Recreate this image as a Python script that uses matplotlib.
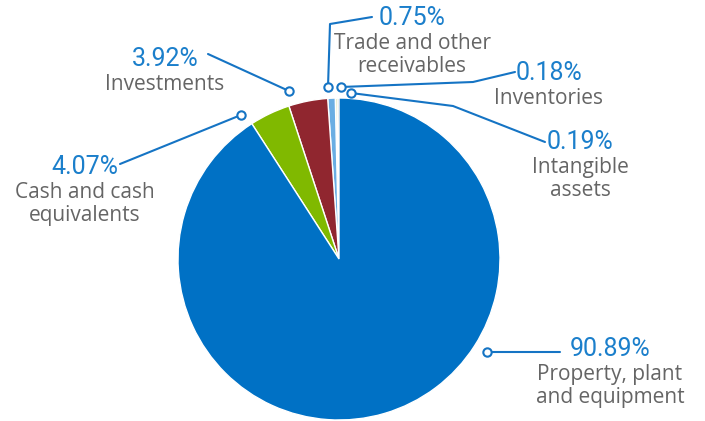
import matplotlib.pyplot as plt

W, H = 705, 421

# asset breakdown, counter-clockwise from 12 o'clock
labels = ["Intangible\nassets", "Inventories", "Trade and other\nreceivables",
          "Investments", "Cash and cash\nequivalents", "Property, plant\nand equipment"]
shares = [0.19, 0.18, 0.75, 3.92, 4.07, 90.89]
colors = ["#5b5b5b", "#c9dd8a", "#6aaee3", "#90262f", "#80b900", "#0071c5"]

# callout layout in pixel coords (x, y from top): leader path, text centre x, pct y
callouts = [
    ([(351, 93), (453, 106), (545, 142)], 580, 142),
    ([(341, 87), (473, 82), (515, 72)], 549, 73),
    ([(328, 87), (330, 24), (372, 17)], 412, 18),
    ([(289, 91), (208, 54)], 165, 59),
    ([(241, 115), (120, 164)], 85, 167),
    ([(487, 352), (560, 352)], 610, 349),
]

line_col = "#1574c4"
pct_col = "#1b7fcb"
txt_col = "#656565"

fig = plt.figure(figsize=(W / 100, H / 100), dpi=100)
ax = fig.add_axes([0, 0, 1, 1])
ax.axis("off")

ax.pie(shares, colors=colors, startangle=90, counterclock=True,
       center=(339, H - 259), radius=161,
       wedgeprops=dict(edgecolor="white", linewidth=1))
ax.set_xlim(0, W)
ax.set_ylim(0, H)
ax.set_aspect("equal")

for (path, tx, ty), lab, val in zip(callouts, labels, shares):
    xs = [p[0] for p in path]
    ys = [H - p[1] for p in path]
    ax.plot(xs, ys, color=line_col, lw=1.5, solid_capstyle="round")
    ax.plot(xs[0], ys[0], "o", ms=6, mfc="white", mec=line_col, mew=1.5)
    ax.text(tx, H - ty, f"{val:.2f}%", ha="center", va="center",
            fontsize=18, color=pct_col, family="Roboto")
    ax.text(tx, H - ty - 15, lab, ha="center", va="top", fontsize=15,
            color=txt_col, family="Open Sans", linespacing=1.1)

fig.savefig("out.png", dpi=100)
